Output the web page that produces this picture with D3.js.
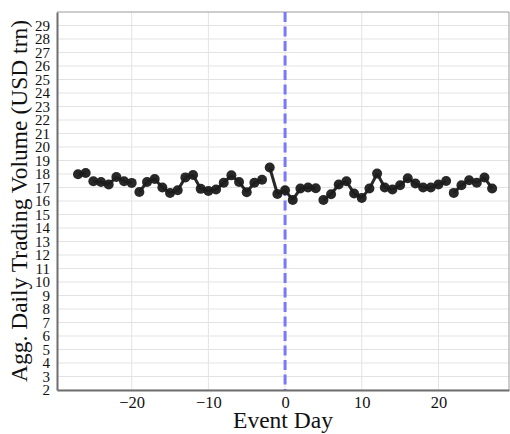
<!DOCTYPE html>
<html>
<head>
<meta charset="utf-8">
<script src="https://cdn.jsdelivr.net/npm/d3@7"></script>
<style>
  html, body { margin: 0; padding: 0; background: #fff; }
  svg { display: block; }
  text { font-family: "Liberation Serif", "Times New Roman", serif; fill: #111; }
</style>
</head>
<body>
<svg id="chart" width="510" height="434"></svg>
<script>
// Event-study window: trading days relative to the event
const eventDays = d3.range(-27, 28);

// Aggregate daily trading volume, USD trillion
const volume = [
  17.98, 18.08, 17.46, 17.41, 17.22, 17.78, 17.46, 17.34, 16.67, 17.41,
  17.63, 17.00, 16.60, 16.80, 17.75, 17.93, 16.90, 16.75, 16.85, 17.35,
  17.90, 17.41, 16.65, 17.35, 17.58, 18.48, 16.52, 16.80, 16.08, 16.92,
  17.00, 16.95, 16.08, 16.50, 17.22, 17.46, 16.55, 16.23, 16.92, 18.03,
  17.00, 16.85, 17.17, 17.68, 17.29, 17.00, 17.00, 17.22, 17.48, 16.60,
  17.17, 17.54, 17.36, 17.74, 16.92
];

// Days after which the connecting line is interrupted
const lineBreaksAfter = [-26, -20, -3, 4, 21];

const xTicks = [-20, -10, 0, 10, 20];
const yTicks = d3.range(2, 30);

const xLabel = "Event Day";
const yLabel = "Agg. Daily Trading Volume (USD trn)";

const data = eventDays.map((d, i) => ({ day: d, value: volume[i] }));

const svg = d3.select("#chart");
const box = { left: 57, right: 509, top: 12, bottom: 390 };

const x = d3.scaleLinear().domain([-29.74, 29.2]).range([box.left, box.right]);
const y = d3.scaleLinear().domain([2, 30]).range([box.bottom, box.top]);

// grid
const grid = svg.append("g");
grid.selectAll("line.h").data(yTicks).join("line")
  .attr("x1", box.left).attr("x2", box.right)
  .attr("y1", d => y(d)).attr("y2", d => y(d))
  .attr("stroke", "#e3e3e3").attr("stroke-width", 1);
grid.selectAll("line.v").data(xTicks).join("line")
  .attr("y1", box.top).attr("y2", box.bottom)
  .attr("x1", d => x(d)).attr("x2", d => x(d))
  .attr("stroke", "#e3e3e3").attr("stroke-width", 1);

// frame: light top/right, darker left/bottom
svg.append("line").attr("x1", box.left).attr("x2", box.right).attr("y1", box.top).attr("y2", box.top)
  .attr("stroke", "#9a9a9a").attr("stroke-width", 1);
svg.append("line").attr("x1", box.right).attr("x2", box.right).attr("y1", box.top).attr("y2", box.bottom)
  .attr("stroke", "#9a9a9a").attr("stroke-width", 1);

// event line
svg.append("line")
  .attr("x1", x(0)).attr("x2", x(0)).attr("y1", box.top).attr("y2", box.bottom)
  .attr("stroke", "rgb(120,120,250)").attr("stroke-width", 3)
  .attr("stroke-dasharray", "10,4.5");

// connecting line, drawn per pair of consecutive days
const pairs = d3.pairs(data).filter(([a]) => !lineBreaksAfter.includes(a.day));
const lineGen = d3.line().x(d => x(d.day)).y(d => y(d.value));
svg.append("g").selectAll("path").data(pairs).join("path")
  .attr("d", p => lineGen(p))
  .attr("fill", "none").attr("stroke", "#1c1c1c").attr("stroke-width", 3)
  .attr("stroke-opacity", 0.95);

// markers
svg.append("g").selectAll("circle").data(data).join("circle")
  .attr("cx", d => x(d.day)).attr("cy", d => y(d.value)).attr("r", 5)
  .attr("fill", "#1c1c1c").attr("fill-opacity", 0.95);

// axes
const xAxis = svg.append("g").attr("transform", `translate(0,${box.bottom})`)
  .call(d3.axisBottom(x).tickValues(xTicks).tickSize(0).tickPadding(6)
    .tickFormat(d => d < 0 ? "\u2212" + Math.abs(d) : String(d)));
xAxis.select(".domain").attr("stroke", "#6e6e6e").attr("stroke-width", 2);
xAxis.selectAll("text").attr("font-size", 16.5).attr("fill", "#111")
  .attr("font-family", '"Liberation Serif", serif');

const yAxis = svg.append("g").attr("transform", `translate(${box.left},0)`)
  .call(d3.axisLeft(y).tickValues(yTicks).tickSize(0).tickPadding(7));
yAxis.select(".domain").attr("stroke", "#6e6e6e").attr("stroke-width", 2);
yAxis.selectAll("text").attr("font-size", 15).attr("fill", "#111")
  .attr("font-family", '"Liberation Serif", serif');

// titles
svg.append("text").attr("x", (box.left + box.right) / 2).attr("y", 428)
  .attr("text-anchor", "middle").attr("font-size", 23.5).text(xLabel);
svg.append("text")
  .attr("transform", `translate(27,${(box.top + box.bottom) / 2}) rotate(-90)`)
  .attr("text-anchor", "middle").attr("font-size", 23.5).text(yLabel);
</script>
</body>
</html>
